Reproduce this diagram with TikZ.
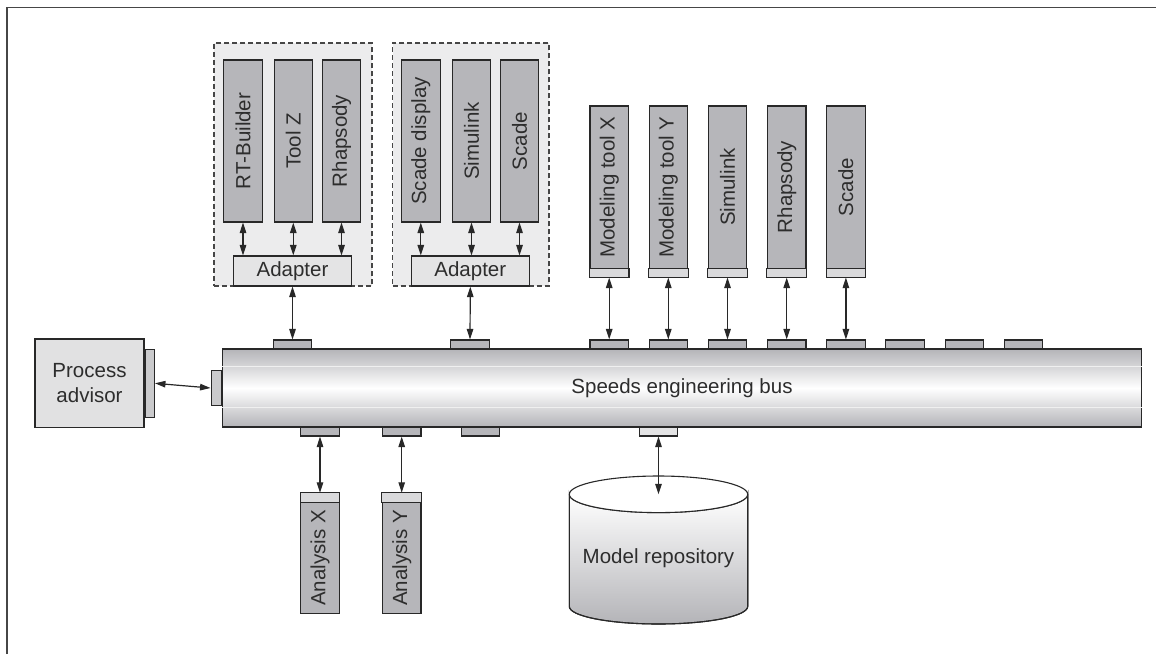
\documentclass[tikz,border=0pt]{standalone}
\usepackage{fontspec}
\setmainfont{Liberation Sans}
\usetikzlibrary{arrows.meta}
\definecolor{ink}{RGB}{40,40,40}
\definecolor{txt}{RGB}{45,45,45}
\definecolor{toolgray}{RGB}{182,182,186}
\definecolor{stripgray}{RGB}{218,218,220}
\definecolor{groupbg}{RGB}{236,236,237}
\definecolor{adaptbg}{RGB}{228,228,229}
\definecolor{advbg}{RGB}{225,225,226}
\definecolor{sidetab}{RGB}{202,202,204}
\definecolor{busedge}{RGB}{180,180,184}
\definecolor{framecol}{RGB}{70,70,70}
\tikzset{
  lbl/.style={text=txt, font=\fontsize{20.5}{25}\selectfont, inner sep=0pt},
  vlbl/.style={lbl, rotate=90},
  tool/.style={draw=ink, line width=1.1pt, fill=toolgray, inner sep=0pt, minimum width=38.5pt},
  tab/.style={draw=ink, line width=1.1pt, fill=toolgray, inner sep=0pt, minimum width=38.5pt, minimum height=9pt},
  lighttab/.style={tab, fill=adaptbg},
  strip/.style={draw=ink, line width=1.1pt, fill=stripgray},
  grp/.style={draw=framecol, line width=1.2pt, dash pattern=on 5pt off 3pt, fill=groupbg, inner sep=0pt, minimum height=243pt},
  adapt/.style={draw=ink, line width=1.1pt, fill=adaptbg, inner sep=0pt, minimum width=118pt, minimum height=30pt, text=txt, font=\fontsize{20.5}{25}\selectfont},
  dbl/.style={>={Triangle[length=10.5pt,width=6.5pt]}, <->, line width=1.2pt, draw=ink},
}
\begin{document}
\begin{tikzpicture}[x=1pt,y=-1pt]
\useasboundingbox (0,0) rectangle (1156,654);
% outer frame (top and left only)
\draw[framecol, line width=1.6pt] (7,654) -- (7,7.5) -- (1156,7.5);

% dashed groups
\node[grp, minimum width=158pt] (g1) at (293,164.5) {};
\node[grp, minimum width=156.3pt] (g2) at (470.85,164.5) {};

% tools in group 1
\node[tool, minimum height=162pt] (rtb) at (243,141) {};
\node[tool, minimum height=162pt] (tz) at (293.3,141) {};
\node[tool, minimum height=162pt] (rh1) at (341.5,141) {};
\node[vlbl] (rtbt) at (rtb) {RT-Builder};
\node[vlbl] (tzt) at (tz) {Tool Z};
\node[vlbl] (rh1t) at (rh1) {Rhapsody};
% tools in group 2
\node[tool, minimum height=162pt] (sd) at (420.8,141) {};
\node[tool, minimum height=162pt] (sl1) at (471.5,141) {};
\node[tool, minimum height=162pt] (sc1) at (519.5,141) {};
\node[vlbl] (sdt) at (sd) {Scade display};
\node[vlbl] (sl1t) at (sl1) {Simulink};
\node[vlbl] (sc1t) at (sc1) {Scade};

% adapters
\node[adapt] (ad1) at (292.5,271) {Adapter};
\node[adapt] (ad2) at (470.3,271) {Adapter};

\foreach \t/\a in {rtb/ad1, tz/ad1, rh1/ad1, sd/ad2, sl1/ad2, sc1/ad2}
  \draw[dbl] (\t.south) -- (\t.south |- \a.north);

% bus
\node[draw=ink, line width=1.3pt, top color=busedge, bottom color=busedge, middle color=white,
      minimum width=919.4pt, minimum height=78pt, inner sep=0pt] (bus) at (682,388) {};
\draw[white!88!gray, line width=0.9pt] ([yshift=-18.5pt]bus.north west) -- ([yshift=-18.5pt]bus.north east);
\draw[white!88!gray, line width=0.9pt] ([yshift=20.5pt]bus.south west) -- ([yshift=20.5pt]bus.south east);
\node[lbl] (bust) at (bus) {Speeds engineering bus};

% top tabs
\node[tab] (ta1) at (292.5,344.5) {};
\node[tab] (ta2) at (470,344.5) {};
\node[tab] (tb1) at (609.2,344.5) {};
\node[tab] (tb2) at (668.3,344.5) {};
\node[tab] (tb3) at (727.5,344.5) {};
\node[tab] (tb4) at (786.7,344.5) {};
\node[tab] (tb5) at (845.9,344.5) {};
\node[tab] (tb6) at (905.1,344.5) {};
\node[tab] (tb7) at (964.3,344.5) {};
\node[tab] (tb8) at (1023.5,344.5) {};

\draw[dbl] (ad1.south) -- (ta1.north);
\draw[dbl] (ad2.south) -- (ta2.north);

% modeling tools
\foreach \n/\x/\t in {mx/609.2/Modeling tool X, my/668.3/Modeling tool Y, sl2/727.5/Simulink, rh2/786.7/Rhapsody, sc2/845.9/Scade}{
  \node[tool, minimum height=171pt] (\n) at (\x,191.5) {};
  \draw[strip] (\n.south west) rectangle ([yshift=9pt]\n.south east);
  \node[vlbl] (\n t) at (\x,187) {\t};
}
\draw[dbl] (mx.south) -- (tb1.north);
\draw[dbl] (my.south) -- (tb2.north);
\draw[dbl] (sl2.south) -- (tb3.north);
\draw[dbl] (rh2.south) -- (tb4.north);
\draw[dbl] (sc2.south) -- (tb5.north);

% bottom tabs
\node[tab] (bt1) at (320,431.5) {};
\node[tab] (bt2) at (401.7,431.5) {};
\node[tab] (bt3) at (480.5,431.5) {};
\node[lighttab] (rtab) at (658.5,431.5) {};

% analysis tools
\node[tool, minimum height=120pt] (anx) at (320,553.3) {};
\draw[strip] (anx.north west) rectangle ([yshift=-9.4pt]anx.north east);
\node[vlbl] (anxt) at (320,558) {Analysis X};
\node[tool, minimum height=120pt] (any) at (401.7,553.3) {};
\draw[strip] (any.north west) rectangle ([yshift=-9.4pt]any.north east);
\node[vlbl] (anyt) at (401.7,558) {Analysis Y};
\draw[dbl] (bt1.south) -- (anx.north);
\draw[dbl] (bt2.south) -- (any.north);

% repository cylinder
\shade[top color=white, bottom color=busedge, draw=ink, line width=1.1pt]
  (569.3,494.3) -- (569.3,606.5) arc[start angle=180, end angle=360, x radius=89.2pt, y radius=17.5pt]
  -- (747.7,494.3) arc[start angle=0, end angle=-180, x radius=89.2pt, y radius=18.3pt] -- cycle;
\draw[ink, line width=1.1pt] (569.3,494.3) -- (569.3,606.5) arc[start angle=180, end angle=360, x radius=89.2pt, y radius=17.5pt] -- (747.7,494.3);
\draw[ink, line width=1.1pt, fill=white] (658.5,494.3) ellipse[x radius=89.2pt, y radius=18.3pt];
\coordinate (repotop) at (658.5,494.3);
\node[lbl] (repot) at (658.5,558) {Model repository};
\draw[dbl] (rtab.south) -- (repotop);

% process advisor
\node[draw=ink, line width=1.1pt, fill=advbg, minimum width=109pt, minimum height=88.7pt, inner sep=0pt,
      align=center, text=txt, font=\fontsize{20.5}{25}\selectfont] (adv) at (89.5,383.3) {Process\\advisor};
\node[draw=ink, line width=1.1pt, fill=sidetab, minimum width=9.3pt, minimum height=68pt, inner sep=0pt, anchor=west] (advtab) at (adv.east) {};
\node[draw=ink, line width=1.1pt, fill=sidetab, minimum width=10pt, minimum height=35pt, inner sep=0pt, anchor=east] (bustab) at (bus.west) {};
\draw[dbl] (advtab.east) -- (bustab.west);
\end{tikzpicture}
\end{document}
